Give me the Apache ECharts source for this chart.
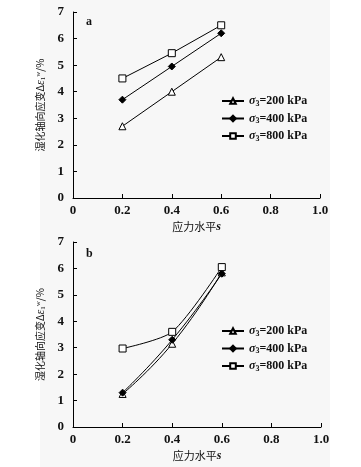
<!DOCTYPE html>
<html><head><meta charset="utf-8">
<script src="https://cdn.jsdelivr.net/npm/echarts@6/dist/echarts.min.js"></script>
<style>html,body{margin:0;padding:0;background:#fff}#c{width:361px;height:467px}</style>
</head><body><div id="c"></div>
<script>
var xValues = [0.2, 0.4, 0.6];
var seriesNames = ['σ3=200 kPa', 'σ3=400 kPa', 'σ3=800 kPa'];
var legendLabels = ['{i|σ}{s|3}=200 kPa', '{i|σ}{s|3}=400 kPa', '{i|σ}{s|3}=800 kPa'];
var a200 = [2.7, 4.0, 5.3];
var a400 = [3.7, 4.95, 6.2];
var a800 = [4.5, 5.45, 6.5];
var b200 = [1.25, 3.15, 5.85];
var b400 = [1.3, 3.3, 5.8];
var b800 = [2.97, 3.6, 6.05];
var xTicks = [0, 0.2, 0.4, 0.6, 0.8, 1.0];
var yTicks = [0, 1, 2, 3, 4, 5, 6, 7];

var FONT = '"Liberation Serif","DejaVu Serif",serif';
var CJK = '"Noto Sans CJK SC",sans-serif';
var symbols = ['triangle', 'diamond', 'rect'];
var fills = ['#fff', '#000', '#fff'];
var sizes = [7, 7, 7];
var smoothB = [0.5, 0.5, 0.25];

function pairs(vals){ return xValues.map(function(x,i){ return [x, vals[i]]; }); }

var chart = echarts.init(document.getElementById('c'), null, {renderer:'canvas'});

function xAxis(idx){
  return {
    type:'value', gridIndex: idx, min:0, max:1, interval:0.2,
    axisLine:{show:true, lineStyle:{color:'#000', width:1}},
    axisTick:{show:true, inside:true, length:4, lineStyle:{color:'#000'}},
    splitLine:{show:false},
    axisLabel:{color:'#111', fontFamily:FONT, fontWeight:'bold', fontSize:13, margin:6,
      formatter:function(v){ return v===0 ? '0' : v.toFixed(1); }},
    name:'{c|应力水平}{s|s}', nameLocation:'middle', nameGap:23,
    nameTextStyle:{rich:{c:{fontFamily:CJK, fontSize:11, color:'#111'}, s:{fontFamily:FONT, fontStyle:'italic', fontWeight:'bold', fontSize:12, color:'#111'}}}
  };
}
function yAxis(idx){
  return {
    type:'value', gridIndex: idx, min:0, max:7, interval:1,
    axisLine:{show:true, lineStyle:{color:'#000', width:1}},
    axisTick:{show:true, inside:true, length:4, lineStyle:{color:'#000'}},
    splitLine:{show:false},
    axisLabel:{color:'#111', fontFamily:FONT, fontWeight:'bold', fontSize:13, margin:9},
    name:'{c|湿化轴向应变Δ}{i|ε}{sub|1}{sup|w}{c|/%}', nameLocation:'middle', nameGap:22, nameRotate:90,
    nameTextStyle:{rich:{
      c:{fontFamily:CJK, fontSize:10, color:'#111'},
      i:{fontFamily:FONT, fontStyle:'italic', fontSize:12, color:'#111'},
      sub:{fontFamily:FONT, fontSize:7, color:'#111', verticalAlign:'bottom', padding:[4,0,0,0]},
      sup:{fontFamily:FONT, fontSize:7, color:'#111', verticalAlign:'top', padding:[0,0,4,0]}
    }}
  };
}

var series = [];
var dataA = [a200, a400, a800];
var dataB = [b200, b400, b800];
[0,1].forEach(function(g){
  var d = g===0 ? dataA : dataB;
  for (var k=0;k<3;k++){
    series.push({
      type:'line', name: seriesNames[k], xAxisIndex:g, yAxisIndex:g,
      data: pairs(d[k]), smooth: g===1 ? smoothB[k] : false,
      symbol: symbols[k], symbolSize: sizes[k], showSymbol:true,
      lineStyle:{color:'#000', width:1},
      itemStyle:{color: fills[k], borderColor:'#000', borderWidth:1},
      z: 3 + (k===2?1:0)
    });
  }
});

var legendRich = {i:{fontFamily:FONT, fontStyle:'italic', fontWeight:'bold', fontSize:12, color:'#111'},
  s:{fontFamily:FONT, fontSize:8, color:'#111', verticalAlign:'bottom', padding:[5,0,0,0]}};
function legend(top){
  return {
    left:216, top: top, orient:'vertical', itemGap:5, itemWidth:22, itemHeight:7,
    data: seriesNames,
    formatter:function(n){ return legendLabels[seriesNames.indexOf(n)]; },
    textStyle:{fontFamily:FONT, fontWeight:'bold', fontSize:12, color:'#111', rich:legendRich},
    selectedMode:false
  };
}

chart.setOption({
  backgroundColor:'#fff',
  animation:false,
  graphic:[
    {type:'rect', shape:{x:40, y:0, width:290, height:467}, style:{fill:'#f7f7f7'}, z:-10, silent:true},
    {type:'text', left:86, top:16, style:{text:'a', font:'bold 12px '+FONT, fill:'#111'}},
    {type:'text', left:86, top:248, style:{text:'b', font:'bold 12px '+FONT, fill:'#111'}}
  ],
  grid:[
    {left:73, right:41, top:12, bottom:269},
    {left:73, right:40, top:242, bottom:40}
  ],
  legend:[legend(90), legend(320)],
  xAxis:[xAxis(0), xAxis(1)],
  yAxis:[yAxis(0), yAxis(1)],
  series: series
});
</script></body></html>
